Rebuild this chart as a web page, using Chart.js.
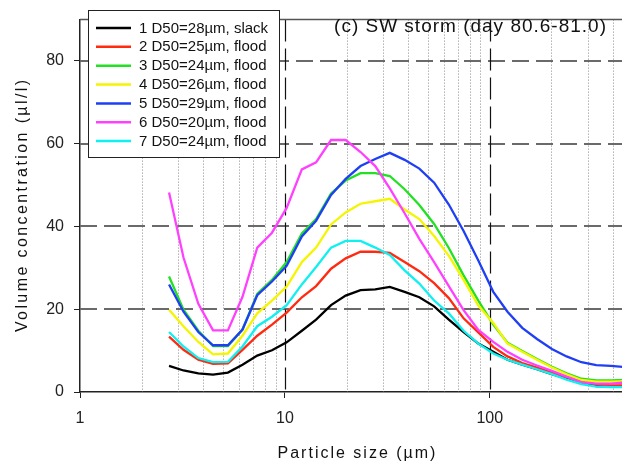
<!DOCTYPE html>
<html>
<head>
<meta charset="utf-8">
<script src="https://cdn.jsdelivr.net/npm/chart.js@4"></script>
<style>
html,body{margin:0;padding:0;overflow:hidden;background:#fff;}
#wrap{width:640px;height:466px;}
</style>
</head>
<body>
<div id="wrap"><canvas id="c" width="640" height="466"></canvas></div>
<script>
// ---- data ----
const sizes = [2.72, 3.2, 3.78, 4.46, 5.27, 6.21, 7.33, 8.65, 10.2, 12.1, 14.2, 16.8, 19.8, 23.4, 27.6, 32.5, 38.4, 45.3, 53.5, 63.1, 74.5, 87.9, 104, 122, 144, 170, 201, 237, 280, 331, 390, 460];
const series1 = [6.3, 5.2, 4.5, 4.2, 4.7, 6.6, 8.8, 10.1, 12.0, 14.8, 17.5, 21.0, 23.3, 24.6, 24.8, 25.4, 24.2, 22.9, 20.7, 17.5, 14.5, 11.7, 9.7, 7.8, 6.6, 5.5, 4.3, 3.2, 2.2, 1.4, 1.3, 1.3];
const series2 = [13.4, 10.2, 7.8, 6.8, 6.9, 10.2, 13.6, 16.3, 19.2, 22.9, 25.6, 29.8, 32.3, 33.9, 33.9, 33.6, 31.4, 29.2, 26.3, 22.7, 17.8, 14.4, 10.9, 8.6, 7.0, 5.9, 4.7, 3.6, 2.4, 1.9, 1.6, 1.6];
const series3 = [27.9, 19.9, 14.8, 11.1, 11.1, 15.1, 23.7, 27.1, 31.4, 38.3, 41.8, 48.0, 51.1, 52.9, 52.9, 52.2, 49.0, 45.2, 40.6, 34.8, 28.2, 22.1, 16.3, 11.9, 9.9, 8.0, 6.1, 4.5, 3.2, 2.8, 2.8, 2.9];
const series4 = [19.9, 15.9, 12.1, 9.1, 9.3, 13.6, 19.0, 22.1, 25.5, 31.4, 34.9, 40.5, 43.4, 45.5, 46.1, 46.7, 44.1, 41.8, 37.7, 32.9, 27.1, 20.9, 16.7, 11.7, 9.7, 7.8, 5.9, 4.3, 2.9, 2.5, 2.5, 2.6];
const series5 = [26.0, 19.4, 14.5, 11.3, 11.3, 15.1, 23.4, 26.7, 30.5, 37.6, 41.4, 47.6, 51.5, 54.6, 56.3, 57.8, 56.1, 54.0, 50.6, 45.3, 38.9, 31.8, 24.2, 19.4, 15.5, 12.8, 10.4, 8.6, 7.2, 6.5, 6.3, 6.0];
const series6 = [48.2, 32.5, 21.3, 14.9, 14.9, 23.0, 34.9, 38.5, 44.5, 53.8, 55.5, 60.9, 60.9, 58.0, 54.6, 49.2, 43.2, 37.0, 31.4, 25.6, 19.8, 15.0, 12.1, 9.7, 7.8, 6.4, 5.1, 3.7, 2.4, 2.0, 2.0, 2.3];
const series7 = [14.5, 11.0, 8.2, 7.2, 7.3, 11.0, 15.9, 18.2, 21.0, 26.0, 30.2, 34.9, 36.5, 36.5, 34.9, 33.1, 29.4, 26.2, 22.1, 19.0, 14.8, 11.7, 9.3, 7.8, 6.6, 5.5, 4.3, 3.0, 1.9, 1.3, 1.2, 1.2];
const seriesLabels = ['1 D50=28\u00b5m, slack', '2 D50=25\u00b5m, flood', '3 D50=24\u00b5m, flood', '4 D50=26\u00b5m, flood', '5 D50=29\u00b5m, flood', '6 D50=20\u00b5m, flood', '7 D50=24\u00b5m, flood'];
const seriesColors = ['#000000', '#ff2a10', '#22e022', '#f5f500', '#1f3ff5', '#ff40ff', '#10f0f0'];
const xTickValues = [1, 10, 100];
const yTickValues = [0, 20, 40, 60, 80];
const majorX = [10, 100];
const minorX = [2, 3, 4, 5, 6, 7, 8, 9, 20, 30, 40, 50, 60, 70, 80, 90, 200, 300, 400];
const panelTitle = '(c) SW storm (day 80.6-81.0)';
const xTitle = 'Particle size (\u00b5m)';
const yTitle = 'Volume concentration (\u00b5l/l)';

const allSeries = [series1, series2, series3, series4, series5, series6, series7];
const FONT = '"Liberation Sans", Arial, sans-serif';

const datasets = allSeries.map((s, i) => ({
  label: seriesLabels[i],
  data: sizes.map((x, j) => ({x: x, y: s[j]})),
  borderColor: seriesColors[i],
  backgroundColor: seriesColors[i],
  borderWidth: 2.3,
  pointRadius: 0,
  tension: 0,
  fill: false,
  order: allSeries.length - i
}));

const gridPlugin = {
  id: 'gridPlugin',
  beforeDatasetsDraw(chart) {
    const {ctx, chartArea: a, scales: {x, y}} = chart;
    ctx.save();
    // minor dotted verticals
    ctx.strokeStyle = '#8a8a8a';
    ctx.lineWidth = 1;
    ctx.setLineDash([1, 2]);
    minorX.forEach(v => {
      const px = Math.round(x.getPixelForValue(v)) + 0.5;
      ctx.beginPath(); ctx.moveTo(px, a.top); ctx.lineTo(px, a.bottom); ctx.stroke();
    });
    // horizontal dashed
    ctx.strokeStyle = '#6a6a6a';
    ctx.lineWidth = 1.8;
    ctx.setLineDash([17, 7]);
    yTickValues.filter(v => v > 0).forEach(v => {
      const py = Math.round(y.getPixelForValue(v));
      ctx.beginPath(); ctx.moveTo(a.left, py); ctx.lineTo(a.right, py); ctx.stroke();
    });
    // vertical dashed at decades
    ctx.strokeStyle = '#111';
    ctx.lineWidth = 1.2;
    ctx.setLineDash([22, 7]);
    majorX.forEach(v => {
      const px = Math.round(x.getPixelForValue(v)) + 0.5;
      ctx.beginPath(); ctx.moveTo(px, a.top); ctx.lineTo(px, a.bottom); ctx.stroke();
    });
    // top frame
    ctx.setLineDash([]);
    ctx.strokeStyle = '#555';
    ctx.lineWidth = 1.5;
    ctx.beginPath(); ctx.moveTo(a.left, a.top); ctx.lineTo(a.right, a.top); ctx.stroke();
    ctx.restore();
  },
  afterDraw(chart) {
    const {ctx, chartArea: a} = chart;
    ctx.save();
    // legend box
    const lx = 88, ly = 10, lw = 191, lh = 147;
    ctx.fillStyle = '#fff';
    ctx.fillRect(lx, ly, lw, lh);
    ctx.strokeStyle = '#222';
    ctx.lineWidth = 1;
    ctx.strokeRect(lx + 0.5, ly + 0.5, lw, lh);
    ctx.font = '15px ' + FONT;
    ctx.textBaseline = 'middle';
    ctx.textAlign = 'left';
    chart.data.datasets.forEach((ds, i) => {
      const ry = 28 + i * 18.85;
      ctx.strokeStyle = ds.borderColor;
      ctx.lineWidth = 2.5;
      ctx.beginPath(); ctx.moveTo(96, ry); ctx.lineTo(131, ry); ctx.stroke();
      ctx.fillStyle = '#111';
      ctx.fillText(ds.label, 139, ry + 0.5);
    });
    // panel title
    ctx.fillStyle = '#111';
    ctx.font = '19px ' + FONT;
    ctx.letterSpacing = '1px';
    ctx.textAlign = 'right';
    ctx.textBaseline = 'alphabetic';
    ctx.fillText(panelTitle, 607, 32);
    // x title
    ctx.font = '16px ' + FONT;
    ctx.letterSpacing = '2px';
    ctx.textAlign = 'center';
    ctx.fillText(xTitle, (a.left + a.right) / 2 + 1, 458);
    // y title
    ctx.letterSpacing = '2.4px';
    ctx.translate(27, (a.top + a.bottom) / 2);
    ctx.rotate(-Math.PI / 2);
    ctx.fillText(yTitle, 1, 0);
    ctx.restore();
  }
};

new Chart(document.getElementById('c'), {
  type: 'line',
  data: {datasets: datasets},
  options: {
    responsive: false,
    animation: false,
    devicePixelRatio: 1,
    layout: {padding: {left: 0, top: 4, right: 7, bottom: 0}},
    plugins: {legend: {display: false}, tooltip: {enabled: false}, title: {display: false}},
    scales: {
      x: {
        type: 'logarithmic',
        min: 1,
        max: 500,
        afterBuildTicks: s => { s.ticks = xTickValues.map(v => ({value: v})); },
        afterFit: s => { s.height = 74; },
        grid: {drawOnChartArea: false, drawTicks: true, tickLength: 6, color: '#222', lineWidth: 1},
        border: {display: true, color: '#222', width: 1.5},
        ticks: {
          color: '#222', font: {family: FONT, size: 16}, padding: 11, maxRotation: 0,
          autoSkip: false,
          callback: v => String(v)
        }
      },
      y: {
        type: 'linear',
        min: 0,
        max: 90,
        afterBuildTicks: s => { s.ticks = yTickValues.map(v => ({value: v})); },
        afterFit: s => { s.width = 80; },
        grid: {drawOnChartArea: false, drawTicks: true, tickLength: 6, color: '#222', lineWidth: 1},
        border: {display: true, color: '#222', width: 1.5},
        ticks: {color: '#222', font: {family: FONT, size: 16}, padding: 10, callback: v => String(v)}
      }
    }
  },
  plugins: [gridPlugin]
});
</script>
</body>
</html>
